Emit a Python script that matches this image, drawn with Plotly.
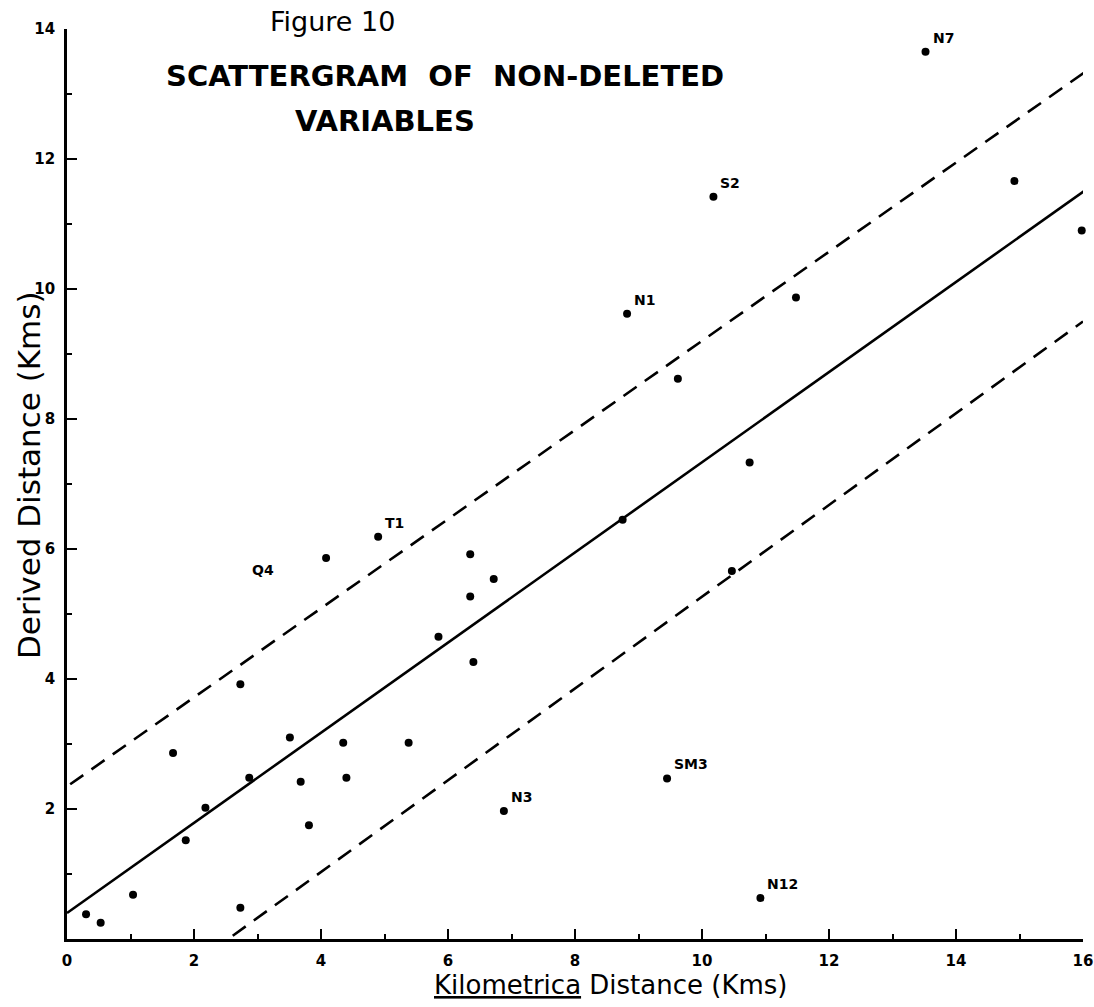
import plotly.graph_objects as go

# ---------------- data ----------------
point_x = [0.30, 0.53, 1.04, 1.67, 1.87, 2.18, 2.73, 2.73, 2.87, 3.51, 3.68, 3.81,
           4.35, 4.40, 5.38, 6.40, 6.88, 4.08, 4.90, 5.85, 6.35, 6.35, 6.72,
           8.75, 8.82, 9.62, 10.18, 11.48, 13.52, 14.92, 15.98, 10.75, 10.47,
           9.45, 10.92]
point_y = [0.38, 0.25, 0.68, 2.86, 1.52, 2.02, 3.92, 0.48, 2.48, 3.10, 2.42, 1.75,
           3.02, 2.48, 3.02, 4.26, 1.97, 5.86, 6.19, 4.65, 5.92, 5.27, 5.54,
           6.45, 9.62, 8.62, 11.42, 9.87, 13.65, 11.66, 10.90, 7.33, 5.66,
           2.47, 0.63]
point_label = ["", "", "", "", "", "", "", "", "", "", "", "",
               "", "", "", "", "N3", "Q4", "T1", "", "", "", "",
               "", "N1", "", "S2", "", "N7", "", "", "", "",
               "SM3", "N12"]

fit_x = [0.0, 16.08]
fit_y = [0.40, 11.55]
upper_x = [0.05, 16.05]
upper_y = [2.38, 13.35]
lower_x = [2.61, 16.0]
lower_y = [0.05, 9.50]

x_tickvals = [0, 2, 4, 6, 8, 10, 12, 14, 16]
y_tickvals = [2, 4, 6, 8, 10, 12, 14]

title_lines = ["Figure 10", "SCATTERGRAM  OF  NON-DELETED", "VARIABLES"]
x_title = "<u>Kilometrica</u> Distance (Kms)"
y_title = "Derived Distance (Kms)"

# ---------------- figure ----------------
FONT = "DejaVu Sans"
fig = go.Figure()

fig.add_trace(go.Scatter(x=fit_x, y=fit_y, mode="lines",
                         line=dict(color="black", width=2.6), hoverinfo="skip"))
fig.add_trace(go.Scatter(x=upper_x, y=upper_y, mode="lines",
                         line=dict(color="black", width=2.6, dash="16px,10px"), hoverinfo="skip"))
fig.add_trace(go.Scatter(x=lower_x, y=lower_y, mode="lines",
                         line=dict(color="black", width=2.6, dash="16px,10px"), hoverinfo="skip"))
fig.add_trace(go.Scatter(x=point_x, y=point_y, mode="markers", cliponaxis=False,
                         marker=dict(color="black", size=8)))

label_offsets = {"Q4": (-50, -12, "right", "middle")}
for px, py, lab in zip(point_x, point_y, point_label):
    if not lab:
        continue
    xs, ys, xa, ya = label_offsets.get(lab, (5, 4, "left", "bottom"))
    fig.add_annotation(x=px, y=py, text=lab, showarrow=False,
                       xanchor=xa, yanchor=ya, xshift=xs, yshift=ys,
                       font=dict(family=FONT, size=14, color="black", weight="bold"))


def paper_x(pix):
    return (pix - 67) / 1016


def paper_y(pix):
    return (939 - pix) / 910


fig.add_annotation(x=paper_x(332), y=paper_y(21), xref="paper", yref="paper",
                   xanchor="center", yanchor="middle",
                   text=title_lines[0], showarrow=False,
                   font=dict(family=FONT, size=27, color="black"))
fig.add_annotation(x=paper_x(445), y=paper_y(76), xref="paper", yref="paper",
                   xanchor="center", yanchor="middle",
                   text=title_lines[1], showarrow=False,
                   font=dict(family=FONT, size=29, color="black", weight="bold"))
fig.add_annotation(x=paper_x(385), y=paper_y(121), xref="paper", yref="paper",
                   xanchor="center", yanchor="middle",
                   text=title_lines[2], showarrow=False,
                   font=dict(family=FONT, size=29, color="black", weight="bold"))

# axis titles
fig.add_annotation(x=paper_x(611), y=paper_y(985), xref="paper", yref="paper",
                   xanchor="center", yanchor="middle", text=x_title, showarrow=False,
                   font=dict(family=FONT, size=26, color="black"))
fig.add_annotation(x=paper_x(29), y=paper_y(475), xref="paper", yref="paper",
                   xanchor="center", yanchor="middle", text=y_title, showarrow=False,
                   textangle=-90, font=dict(family=FONT, size=31, color="black"))

axis_common = dict(showgrid=False, zeroline=False, showline=True, linecolor="black",
                   linewidth=2.6, ticks="inside", ticklen=10, tickwidth=2.2,
                   tickcolor="black", mirror=False,
                   tickfont=dict(family=FONT, size=15, color="black", weight="bold"),
                   minor=dict(ticks="inside", ticklen=5, tickwidth=2, tickcolor="black", dtick=1))

fig.update_xaxes(range=[0, 16], tickvals=x_tickvals, ticktext=[str(v) for v in x_tickvals],
                 ticklabelstandoff=6, **axis_common)
fig.update_yaxes(range=[0, 14], tickvals=y_tickvals, ticktext=[str(v) for v in y_tickvals],
                 ticklabelstandoff=6, **axis_common)

fig.update_layout(width=1094, height=1007, showlegend=False,
                  plot_bgcolor="white", paper_bgcolor="white",
                  margin=dict(l=67, r=11, t=29, b=68, autoexpand=False))

fig.write_html("out.html", config={"displayModeBar": False},
               post_script="document.body.style.margin='0';")
